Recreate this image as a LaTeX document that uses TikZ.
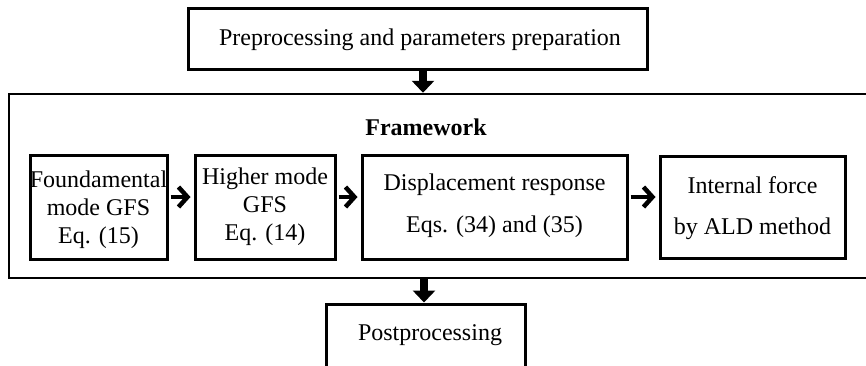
\documentclass[tikz,border=0pt]{standalone}
\usepackage{fontspec}
\setmainfont{Liberation Serif}
\usetikzlibrary{arrows.meta}
\begin{document}
\begin{tikzpicture}[x=1pt,y=-1pt,
  txt/.style={font=\fontsize{24}{28}\selectfont, align=center, inner sep=0pt},
  box/.style={draw=black, line width=3pt, inner sep=0pt},
  bigarrow/.style={line width=8pt, -{Triangle[width=22pt,length=12pt]}},
  smallarrow/.style={line width=4.5pt, -{Straight Barb[length=9pt,width=20pt]}, shorten <=2pt, shorten >=3pt}]
\useasboundingbox (0,0) rectangle (866,365);
\clip (0,0) rectangle (866,365);
% top box
\node[box, minimum width=459pt, minimum height=61pt] (top) at (417.5,38.5) {};
\node[txt] (toptext) at (420,40) {Preprocessing and parameters preparation};
% framework
\node[draw=black, line width=2.5pt, minimum width=871pt, minimum height=184pt, inner sep=0pt] (frame) at (444.5,186) {};
\node[txt, font=\fontsize{24}{28}\selectfont\bfseries] (ftitle) at (426,127) {Framework};
% inner boxes
\node[box, minimum width=137pt, minimum height=104pt] (b1) at (98.5,207.5) {};
\node[txt] (b1t) at (98.5,210) {Foundamental\\mode GFS\\Eq. (15)};
\node[box, minimum width=140pt, minimum height=104pt] (b2) at (265,207.5) {};
\node[txt] (b2t) at (265,207) {Higher mode\\GFS\\Eq. (14)};
\node[box, minimum width=265pt, minimum height=104pt] (b3) at (494.5,207.5) {};
\node[txt, font=\fontsize{24}{42}\selectfont] (b3t) at (494.5,206) {Displacement response\\Eqs. (34) and (35)};
\node[box, minimum width=185pt, minimum height=102pt] (b4) at (752.5,207) {};
\node[txt, font=\fontsize{24}{41}\selectfont] (b4t) at (752.5,208) {Internal force\\by ALD method};
% post box
\node[box, minimum width=199pt, minimum height=72pt] (post) at (425.5,340) {};
\node[txt] (posttext) at (430,335) {Postprocessing};
% arrows
\draw[bigarrow] ([xshift=5.5pt]top.south) -- ([xshift=5.5pt]top.south |- frame.north);
\draw[bigarrow] ([xshift=-20.5pt]frame.south) -- ([xshift=-20.5pt]frame.south |- post.north);
\draw[smallarrow] (b1.east |- 0,197) -- (b2.west |- 0,197);
\draw[smallarrow] (b2.east |- 0,197) -- (b3.west |- 0,197);
\draw[smallarrow] (b3.east |- 0,197) -- (b4.west |- 0,197);
\end{tikzpicture}
\end{document}
